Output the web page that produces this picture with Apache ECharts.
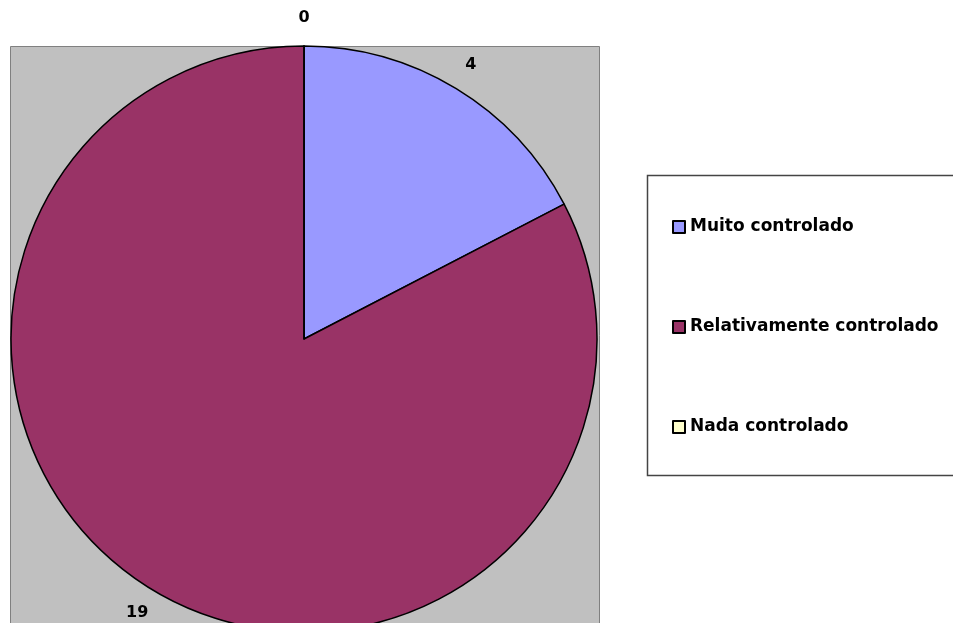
<!DOCTYPE html>
<html>
<head>
<meta charset="utf-8">
<script src="https://cdn.jsdelivr.net/npm/echarts@6/dist/echarts.min.js"></script>
<style>
  html, body { margin: 0; padding: 0; background: #fff; }
  #pieChart { width: 953px; height: 623px; }
</style>
</head>
<body>
<div id="pieChart"></div>
<script>
// categories and values
const categories = ['Muito controlado', 'Relativamente controlado', 'Nada controlado'];
const values = [4, 19, 0];
const colors = ['#9999FF', '#993366', '#FFFFCC'];

const pieData = categories.map((name, i) => ({ name: name, value: values[i] }));

const option = {
  backgroundColor: '#fff',
  animation: false,
  textStyle: {
    fontFamily: 'DejaVu Sans',
  },
  color: colors,
  graphic: [
    {
      // gray plot area
      type: 'rect',
      z: -10,
      shape: { x: 10.5, y: 46.5, width: 589, height: 620 },
      style: { fill: '#C0C0C0', stroke: '#808080', lineWidth: 1 },
    },
    {
      // legend frame
      type: 'rect',
      z: -10,
      shape: { x: 647.5, y: 175.5, width: 320, height: 300 },
      style: { fill: '#fff', stroke: '#444', lineWidth: 1.5 },
    },
  ],
  legend: {
    orient: 'vertical',
    left: 672,
    top: 217,
    padding: 0,
    itemWidth: 12,
    itemHeight: 12,
    itemGap: 80,
    icon: 'rect',
    data: categories,
    textStyle: {
      fontFamily: 'DejaVu Sans',
      fontWeight: 'bold',
      fontSize: 17,
      lineHeight: 20,
      color: '#000',
    },
  },
  series: [
    {
      name: 'controle',
      type: 'pie',
      center: [304, 339],
      radius: 293,
      startAngle: 90,
      clockwise: true,
      avoidLabelOverlap: false,
      silent: true,
      itemStyle: {
        borderColor: '#000',
        borderWidth: 1.5,
      },
      label: {
        show: true,
        position: 'outside',
        formatter: '{c}',
        color: '#000',
        fontFamily: 'DejaVu Sans',
        fontWeight: 'bold',
        fontSize: 16,
        distanceToLabelLine: 0,
      },
      labelLine: {
        show: false,
        length: 28,
        length2: 0,
      },
      labelLayout: function () {
        return { align: 'center', verticalAlign: 'middle' };
      },
      data: pieData,
    },
  ],
};

const pieChart = echarts.init(document.getElementById('pieChart'));
pieChart.setOption(option);
</script>
</body>
</html>
